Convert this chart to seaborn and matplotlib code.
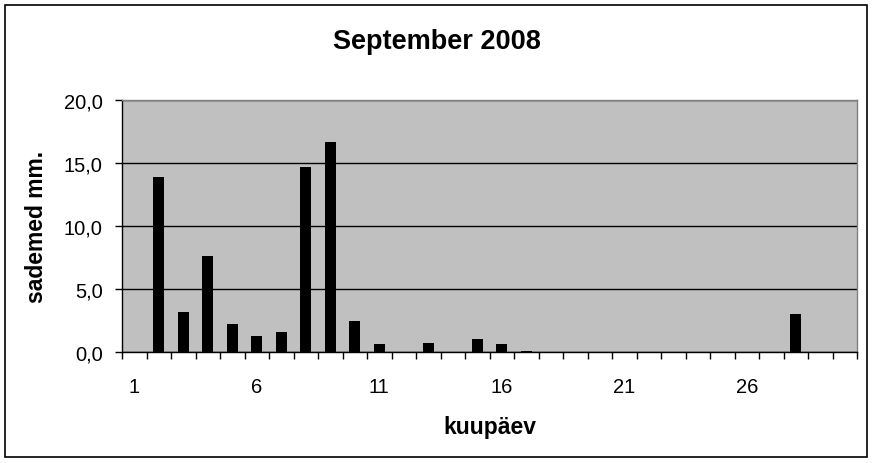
import numpy as np
import pandas as pd
import matplotlib
matplotlib.use("Agg")
import matplotlib.pyplot as plt
import seaborn as sns
from matplotlib.patches import Rectangle
from matplotlib.ticker import FuncFormatter

# data (precipitation per day, mm)
days = list(range(1, 31))
rain = [0.0, 13.9, 3.2, 7.6, 2.2, 1.3, 1.6, 14.7, 16.7, 2.5,
        0.6, 0.0, 0.7, 0.0, 1.0, 0.6, 0.1, 0.0, 0.0, 0.0,
        0.0, 0.0, 0.0, 0.0, 0.0, 0.0, 0.0, 3.0, 0.0, 0.0]
tick_days = [1, 6, 11, 16, 21, 26]
y_ticks = [0, 5, 10, 15, 20]

df = pd.DataFrame({"day": [str(d) for d in days], "rain": rain})

sns.set_style("white")
plt.rcParams["font.family"] = ["Liberation Sans", "DejaVu Sans"]
plt.rcParams["text.color"] = "black"
plt.rcParams["xtick.color"] = "black"
plt.rcParams["ytick.color"] = "black"
plt.rcParams["axes.labelcolor"] = "black"

fig = plt.figure(figsize=(8.74, 4.64), dpi=100)
ax = fig.add_axes([122 / 874, 1 - 353 / 464, (857 - 122) / 874, (353 - 101) / 464])
ax.set_facecolor("#C0C0C0")

sns.barplot(data=df, x="day", y="rain", color="black", width=0.45,
            saturation=1, linewidth=0, ax=ax, zorder=3)

ax.set_ylim(0, 20)
ax.set_xlim(-0.5, len(days) - 0.5)
ax.set_yticks(y_ticks)
ax.yaxis.set_major_formatter(FuncFormatter(lambda v, p: f"{v:.1f}".replace(".", ",")))
ax.grid(axis="y", color="black", linewidth=1, zorder=1)
ax.set_axisbelow(True)

# x: labels every 5 days, tick marks between categories
ax.set_xticks([d - 1 for d in tick_days])
ax.set_xticklabels([str(d) for d in tick_days])
ax.set_xticks(np.arange(-0.5, len(days), 1), minor=True)
ax.tick_params(axis="x", which="major", length=0, pad=18, labelsize=14.5)
ax.tick_params(axis="x", which="minor", bottom=True, length=5, width=1,
               color="black", direction="out")
ax.tick_params(axis="y", which="major", length=5, width=1, color="black",
               direction="out", pad=9, labelsize=14.5, left=True)

for side in ["left", "bottom"]:
    ax.spines[side].set_color("black")
    ax.spines[side].set_linewidth(1)
for side in ["top", "right"]:
    ax.spines[side].set_visible(True)
    ax.spines[side].set_color("#808080")
    ax.spines[side].set_linewidth(1)

ax.set_xlabel("kuupäev", fontsize=16.5, fontweight="bold", va="center")
ax.xaxis.set_label_coords(0.5, (353 - 428) / 252)
ax.set_ylabel("sademed mm.", fontsize=16.5, fontweight="bold", va="center")
ax.yaxis.set_label_coords((37 - 122) / 735, 0.5)
fig.text(437 / 874, 1 - 42 / 464, "September 2008", fontsize=19.5,
         fontweight="bold", ha="center", va="center")

fig.patches.append(Rectangle((5 / 874, 6 / 464), (867 - 5) / 874, (458 - 6) / 464,
                             transform=fig.transFigure, fill=False,
                             edgecolor="black", linewidth=1.2))

fig.savefig("out.png", dpi=100)
